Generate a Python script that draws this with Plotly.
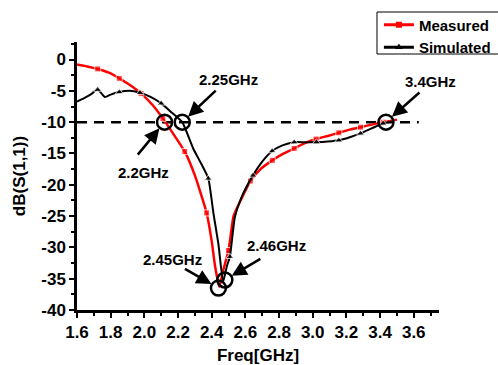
import plotly.graph_objects as go

# Measured S11 (GHz, dB)
meas_freq = [1.60, 1.66, 1.723, 1.79, 1.851, 1.91, 1.98, 2.05, 2.11, 2.17, 2.24, 2.30,
             2.37, 2.40, 2.42, 2.445, 2.47, 2.50, 2.53, 2.57, 2.63, 2.69, 2.76, 2.82,
             2.89, 2.95, 3.02, 3.09, 3.155, 3.22, 3.284, 3.35, 3.418, 3.50]
meas_db = [-0.8, -1.1, -1.5, -2.1, -3.0, -4.0, -5.4, -7.3, -9.4, -11.8, -14.7, -18.5,
           -24.5, -29.0, -33.0, -36.3, -33.5, -30.5, -25.0, -22.6, -19.4, -17.5, -16.1, -15.1,
           -14.2, -13.4, -12.7, -12.2, -11.7, -11.2, -10.8, -10.4, -10.0, -9.6]

# Simulated S11 (GHz, dB)
sim_freq = [1.60, 1.64, 1.68, 1.723, 1.766, 1.80, 1.851, 1.91, 1.974, 2.04, 2.10, 2.16,
            2.225, 2.29, 2.335, 2.38, 2.41, 2.44, 2.468, 2.49, 2.508, 2.538, 2.577, 2.645,
            2.70, 2.759, 2.82, 2.89, 2.95, 3.022, 3.09, 3.155, 3.22, 3.284, 3.35, 3.418, 3.47]
sim_db = [-6.7, -6.2, -5.6, -4.8, -6.0, -5.6, -5.2, -5.0, -5.3, -6.0, -7.0, -8.4,
          -10.0, -14.2, -16.5, -19.0, -24.5, -29.5, -35.5, -33.0, -31.5, -25.1, -22.0, -18.5,
          -16.3, -14.6, -13.7, -13.2, -13.2, -13.2, -13.1, -12.9, -12.4, -11.8, -11.0, -10.2, -9.9]

# Highlighted resonance / band-edge points
res_freq = [2.12, 2.225, 3.435, 2.44, 2.478]
res_db = [-10.0, -10.0, -10.0, -36.5, -35.2]
res_labels = ["2.2GHz", "2.25GHz", "3.4GHz", "2.45GHz", "2.46GHz"]

threshold_db = -10
threshold_end = 3.63

x_ticks = [1.6, 1.8, 2.0, 2.2, 2.4, 2.6, 2.8, 3.0, 3.2, 3.4, 3.6]
y_ticks = [0, -5, -10, -15, -20, -25, -30, -35, -40]

FONT = "Liberation Sans, Arial, sans-serif"
meas_marker_idx = {2, 4, 6, 8, 10, 12, 17, 20, 22, 24, 26, 28, 30, 32}
sim_marker_idx = {3, 6, 8, 10, 15, 20, 23, 25, 27, 29, 31, 33, 35}

# label placement: (text dx, text dy, arrow tail dx, arrow tail dy) in pixels
label_pos = [(-21, -50, -28, 34), (46, 43, 35, -33), (45, 41, 35, -31),
             (-46, 29, -35, -20), (52, 34, 37, -22)]

fig = go.Figure()

fig.add_shape(type="line", x0=x_ticks[0], x1=threshold_end, y0=threshold_db, y1=threshold_db,
              line=dict(color="black", width=2.5, dash="10px,7px"), layer="below")

# legend frame
fig.add_shape(type="rect", xref="paper", yref="paper", x0=0.8287, x1=1.3, y0=0.9552, y1=1.1119,
              line=dict(color="black", width=1), fillcolor="white", layer="above")

fig.add_trace(go.Scatter(
    x=meas_freq, y=meas_db, mode="lines+markers", showlegend=False,
    line=dict(color="#ff0000", width=2.5, shape="spline", smoothing=0.5),
    marker=dict(symbol="square", color="#ff0000",
                size=[6 if i in meas_marker_idx else 0 for i in range(len(meas_freq))]),
))
fig.add_trace(go.Scatter(
    x=sim_freq, y=sim_db, mode="lines+markers", showlegend=False,
    line=dict(color="black", width=2, shape="spline", smoothing=0.5),
    marker=dict(symbol="triangle-up", color="black",
                size=[7 if i in sim_marker_idx else 0 for i in range(len(sim_freq))]),
))

# legend entries
fig.add_trace(go.Scatter(x=[None], y=[None], mode="lines+markers", name="Measured",
                         line=dict(color="#ff0000", width=3),
                         marker=dict(symbol="square", color="#ff0000", size=6)))
fig.add_trace(go.Scatter(x=[None], y=[None], mode="lines+markers", name="Simulated",
                         line=dict(color="black", width=3),
                         marker=dict(symbol="triangle-up", color="black", size=7)))

fig.add_trace(go.Scatter(
    x=res_freq, y=res_db, mode="markers", showlegend=False,
    marker=dict(symbol="circle-open", size=15, color="black", line=dict(width=2.5)),
))

for f, d, lab, (tx, ty, axo, ayo) in zip(res_freq, res_db, res_labels, label_pos):
    fig.add_annotation(x=f, y=d, text="", showarrow=True, ax=axo, ay=ayo,
                       arrowhead=2, arrowsize=1.2, arrowwidth=2.5, arrowcolor="black",
                       standoff=8)
    fig.add_annotation(x=f, y=d, text=lab, showarrow=False, xshift=tx, yshift=ty,
                       font=dict(family=FONT, size=15, color="black", weight="bold"))

tick_font = dict(family=FONT, size=17, color="black", weight="bold")
title_font = dict(family=FONT, size=17, color="black", weight="bold")
fig.update_layout(
    width=498, height=365,
    margin=dict(l=77, r=59, t=42, b=55, autoexpand=False),
    plot_bgcolor="white", paper_bgcolor="white",
    showlegend=True,
    legend=dict(x=0.834, y=1.125, xanchor="left", yanchor="top",
                bgcolor="rgba(0,0,0,0)", borderwidth=0,
                font=dict(family=FONT, size=15, color="black", weight="bold"),
                tracegroupgap=0, itemwidth=30),
    xaxis=dict(range=[1.6, 3.75], tickvals=x_ticks, ticktext=[f"{v:.1f}" for v in x_ticks],
               showline=True, linecolor="black", linewidth=2.5, mirror=False,
               ticks="outside", ticklen=5, tickwidth=2, tickcolor="black",
               minor=dict(dtick=0.1, tick0=1.6, ticks="outside", ticklen=3, tickwidth=1.5,
                          tickcolor="black", showgrid=False),
               showgrid=False, zeroline=False, tickfont=tick_font,
               title=dict(text="Freq[GHz]", font=title_font, standoff=10)),
    yaxis=dict(range=[-40, 2.8], tickvals=y_ticks, ticktext=[str(v) for v in y_ticks],
               showline=True, linecolor="black", linewidth=2.5, mirror=False,
               ticks="outside", ticklen=5, tickwidth=2, tickcolor="black",
               minor=dict(dtick=2.5, tick0=0, ticks="outside", ticklen=3, tickwidth=1.5,
                          tickcolor="black", showgrid=False),
               showgrid=False, zeroline=False, tickfont=tick_font,
               title=dict(text="dB(S(1,1))", font=title_font, standoff=12)),
)

fig.write_html("out.html")
